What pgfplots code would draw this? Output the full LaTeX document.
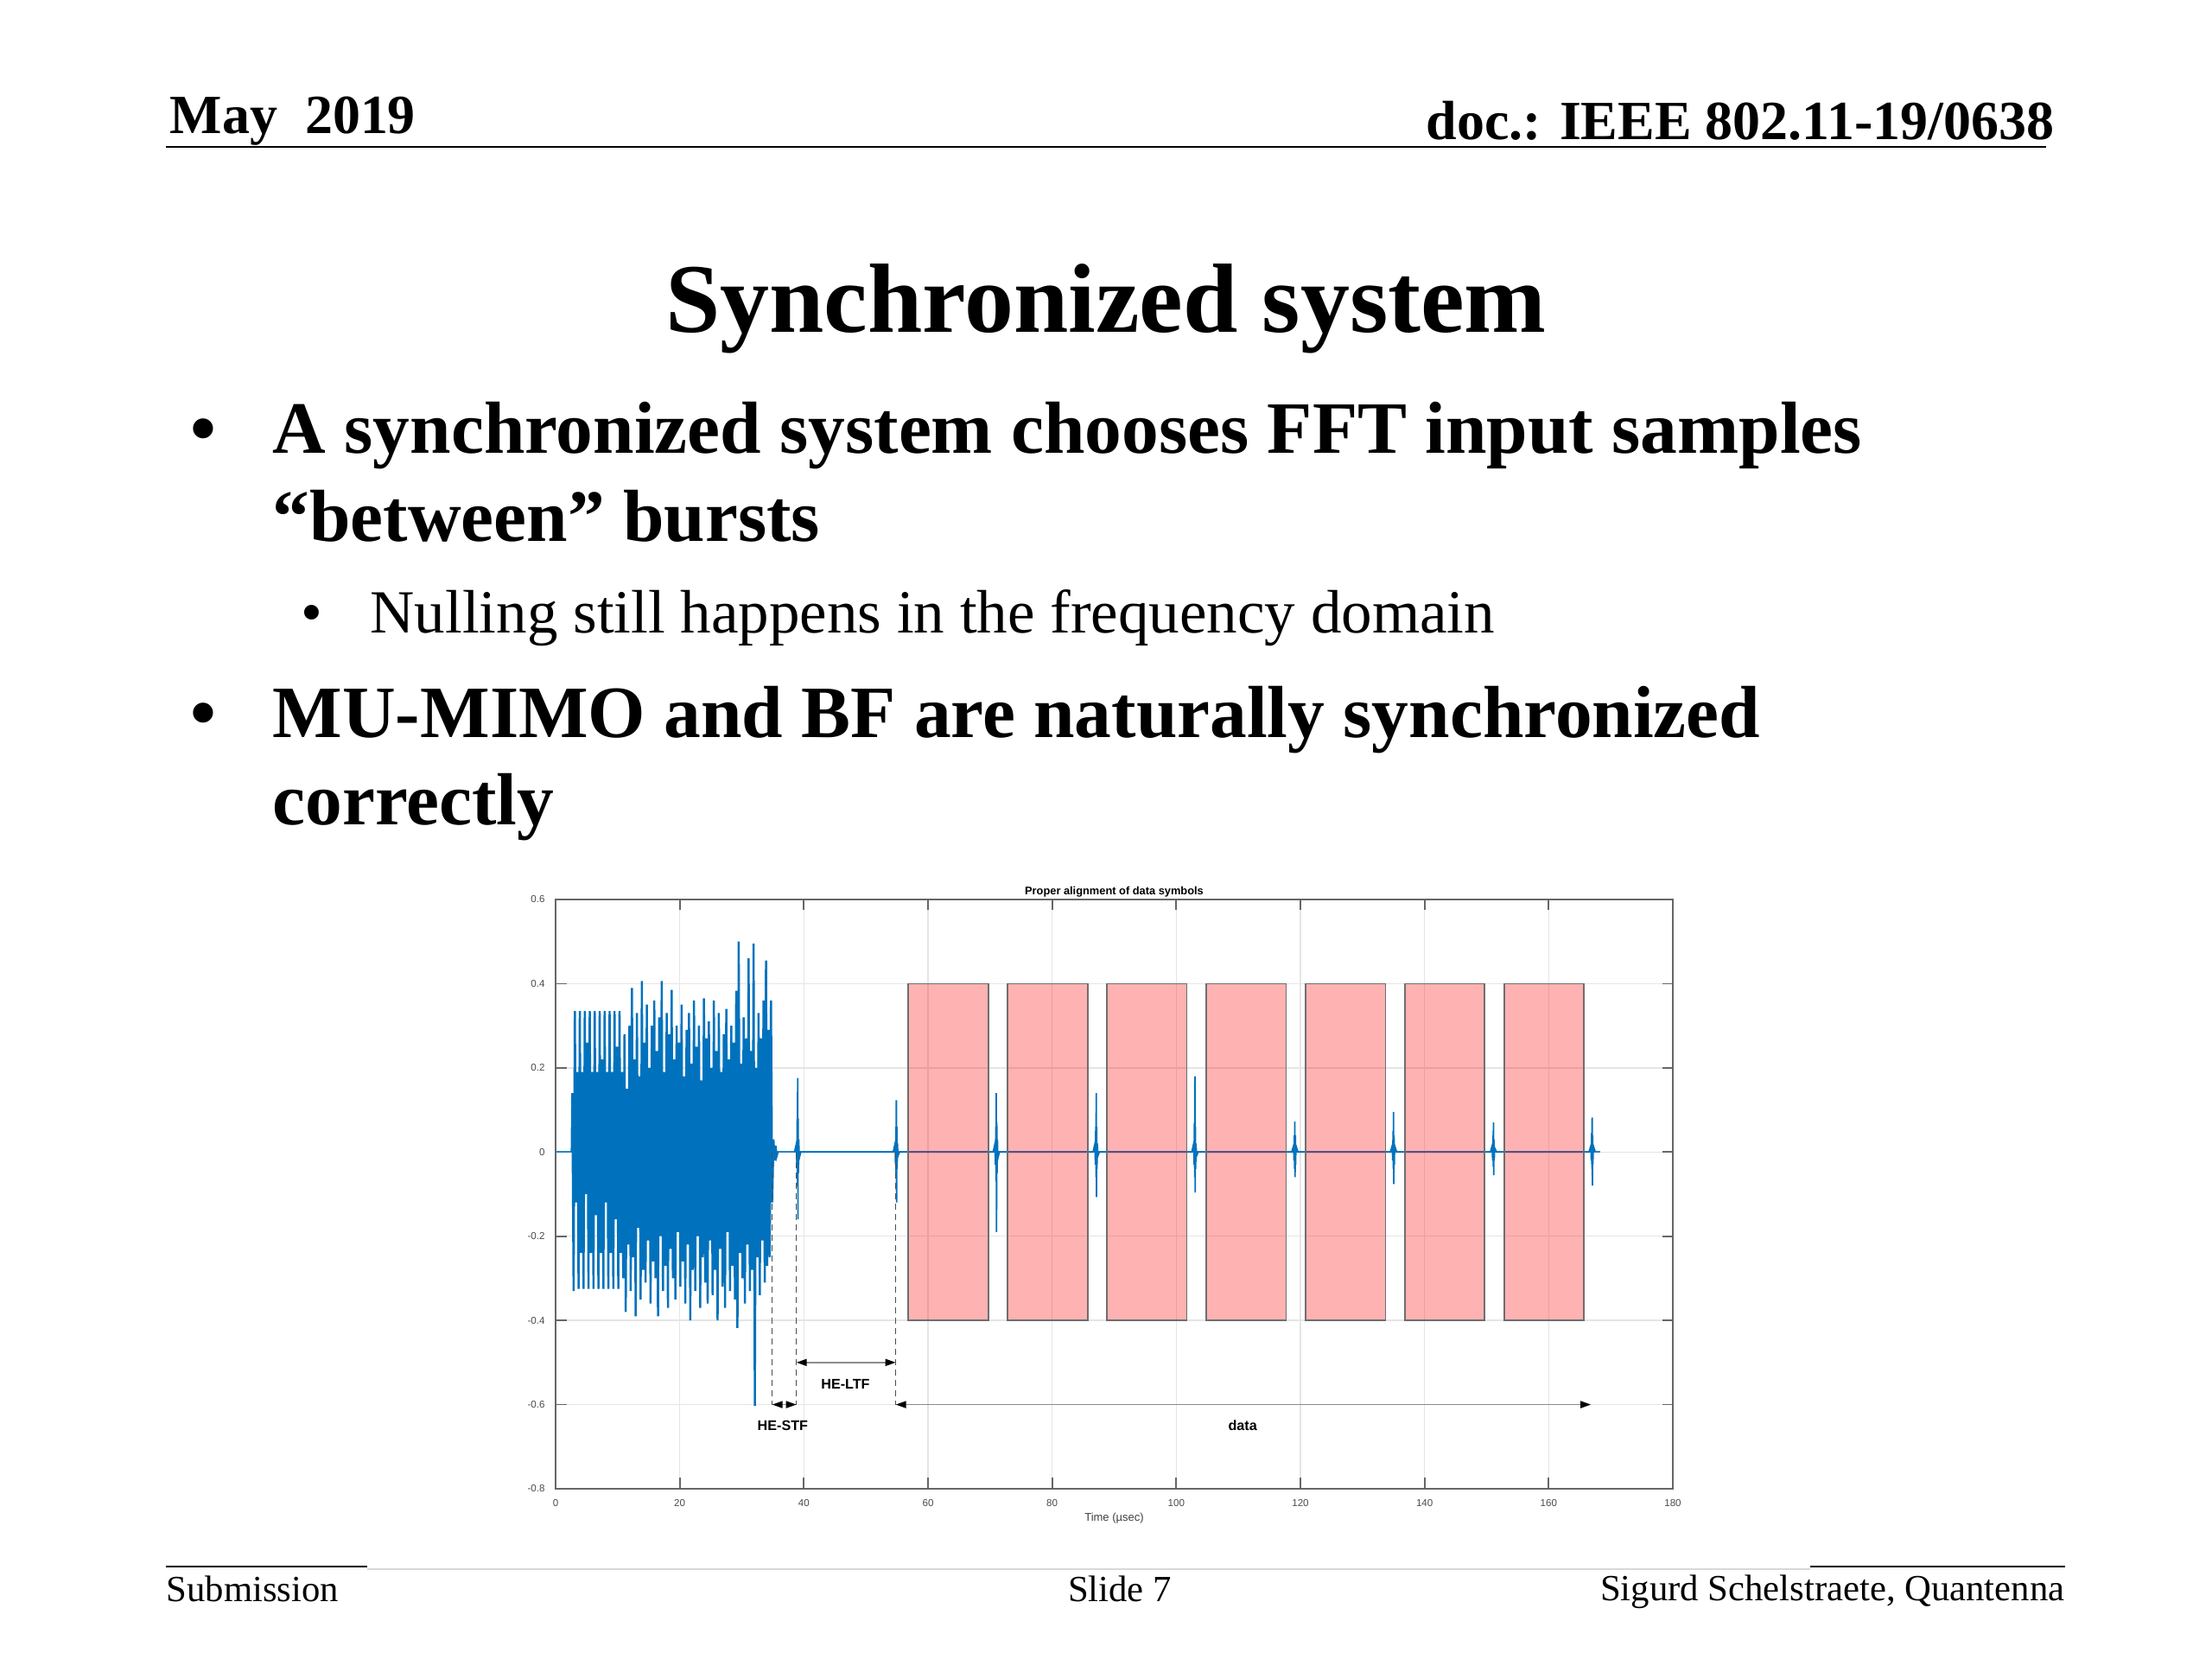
\documentclass[border=0pt]{standalone}
\usepackage{fontspec}
\setmainfont{Liberation Serif}
\setsansfont{Liberation Sans}
\usepackage{pgfplots}
\pgfplotsset{compat=1.18}
\usetikzlibrary{arrows.meta}
\definecolor{mblue}{HTML}{0072BD}
\definecolor{boxedge}{HTML}{6E6E6E}
\newcommand{\hdrfont}{\fontsize{18.2}{22}\selectfont\bfseries}
\newcommand{\bulfont}{\fontsize{24.3}{29}\selectfont\bfseries}
\newcommand{\subfont}{\fontsize{20.2}{24}\selectfont}
\newcommand{\footfont}{\fontsize{12.15}{14}\selectfont}

\begin{document}
\begin{tikzpicture}
\useasboundingbox (0,0) rectangle (256mm,192mm);
\fill[white] (0,0) rectangle (256mm,192mm);

% header
\node[anchor=base west, inner sep=0] at (19.6mm,176.5mm) {\hdrfont May~~2019};
\node[anchor=base east, inner sep=0] at (237.8mm,175.8mm) {\hdrfont doc.: IEEE 802.11-19/0638};
\draw[line width=0.7pt] (19.2mm,175.0mm) -- (236.8mm,175.0mm);

% title and bullets
\node[anchor=base, inner sep=0] at (128.0mm,153.5mm) {\fontsize{32.4}{38}\selectfont\bfseries Synchronized system};
\node[anchor=base west, inner sep=0] at (22.0mm,139.5mm) {\bulfont •};
\node[anchor=base west, inner sep=0] at (31.5mm,139.5mm) {\bulfont A synchronized system chooses FFT input samples};
\node[anchor=base west, inner sep=0] at (31.5mm,129.3mm) {\bulfont “between” bursts};
\node[anchor=base west, inner sep=0] at (34.8mm,118.7mm) {\subfont •};
\node[anchor=base west, inner sep=0] at (42.8mm,118.7mm) {\subfont Nulling still happens in the frequency domain};
\node[anchor=base west, inner sep=0] at (22.0mm,106.6mm) {\bulfont •};
\node[anchor=base west, inner sep=0] at (31.5mm,106.6mm) {\bulfont MU-MIMO and BF are naturally synchronized};
\node[anchor=base west, inner sep=0] at (31.5mm,96.5mm) {\bulfont correctly};

% footer
\draw[line width=0.7pt] (19.2mm,10.7mm) -- (42.5mm,10.7mm);
\draw[line width=0.5pt, black!15] (42.5mm,10.4mm) -- (209.5mm,10.4mm);
\draw[line width=0.7pt] (209.5mm,10.7mm) -- (239.0mm,10.7mm);
\node[anchor=base west, inner sep=0] at (19.2mm,6.6mm) {\footfont Submission};
\node[anchor=base, inner sep=0] at (129.6mm,6.6mm) {\footfont Slide 7};
\node[anchor=base east, inner sep=0] at (239.0mm,6.7mm) {\footfont Sigurd Schelstraete, Quantenna};

\begin{axis}[
  at={(64.3mm,19.7mm)}, anchor=south west,
  scale only axis, width=129.3mm, height=68.2mm,
  xmin=0, xmax=180, ymin=-0.8, ymax=0.6,
  xtick={0,20,40,60,80,100,120,140,160,180},
  ytick={-0.8,-0.6,-0.4,-0.2,0,0.2,0.4,0.6},
  yticklabel style={/pgf/number format/fixed, /pgf/number format/precision=1},
  /pgf/number format/assume math mode=true,
  ticklabel style={font=\sffamily\fontsize{3.3}{4}\selectfont, text=black!70},
  axis line style={black!60, line width=0.6pt},
  tick style={black!60, line width=0.5pt},
  major tick length=1.25mm, tick align=inside,
  grid=major, major grid style={black!10, line width=0.4pt},
  xlabel={Time (µsec)},
  xlabel style={font=\sffamily\fontsize{3.7}{4.2}\selectfont, text=black!75,
    at={(axis description cs:0.5,0)}, anchor=center, yshift=-3.4mm},
  clip=false,
]
% baseline of the waveform
\addplot[mblue!85, line width=0.65pt] coordinates {(0,0) (168.3,0)};
% HE-STF / preamble burst
\addplot[mblue, line width=0.7pt] coordinates {
(2.6,0) (2.7,0.14) (2.9,-0.33) (3.1,0.335) (3.3,-0.12) (3.5,0.19) (3.7,-0.325) (3.9,0.335)
(4.1,-0.24) (4.3,0.19) (4.5,-0.325) (4.7,0.335) (4.9,-0.10) (5.1,0.26) (5.3,-0.325) (5.5,0.335)
(5.7,-0.24) (5.9,0.19) (6.1,-0.325) (6.3,0.335) (6.5,-0.15) (6.7,0.19) (6.9,-0.325) (7.1,0.335)
(7.3,-0.24) (7.5,0.22) (7.7,-0.325) (7.9,0.335) (8.1,-0.12) (8.3,0.19) (8.5,-0.325) (8.7,0.335)
(8.9,-0.24) (9.1,0.19) (9.3,-0.325) (9.5,0.335) (9.7,-0.16) (9.9,0.25) (10.1,-0.325) (10.3,0.335)
(10.5,-0.24) (10.7,0.19)
(10.9,-0.30) (11.1,0.28) (11.3,-0.38) (11.5,0.15) (11.7,-0.22) (11.9,0.30) (12.1,-0.33) (12.3,0.39)
(12.5,-0.25) (12.7,0.22) (12.9,-0.39) (13.1,0.33) (13.3,-0.18) (13.5,0.18) (13.7,-0.35) (13.9,0.406)
(14.1,-0.28) (14.3,0.26) (14.5,-0.31) (14.7,0.35) (14.9,-0.21) (15.1,0.20) (15.3,-0.36) (15.5,0.30)
(15.7,-0.26) (15.9,0.36) (16.1,-0.30) (16.3,0.24) (16.5,-0.39) (16.7,0.32) (16.9,-0.20) (17.1,0.406)
(17.3,-0.33) (17.5,0.19) (17.7,-0.27) (17.9,0.33) (18.1,-0.37) (18.3,0.28) (18.5,-0.23) (18.7,0.385)
(18.9,-0.30) (19.1,0.22) (19.3,-0.35) (19.5,0.30) (19.7,-0.19) (19.9,0.26) (20.1,-0.32) (20.3,0.35)
(20.5,-0.26) (20.7,0.18) (20.9,-0.36) (21.1,0.29) (21.3,-0.22) (21.5,0.33) (21.7,-0.40) (21.9,0.21)
(22.1,-0.28) (22.3,0.36) (22.5,-0.33) (22.7,0.25) (22.9,-0.20) (23.1,0.30) (23.3,-0.37) (23.5,0.17)
(23.7,-0.25) (23.9,0.365) (24.1,-0.31) (24.3,0.27) (24.5,-0.36) (24.7,0.31) (24.9,-0.21) (25.1,0.20)
(25.3,-0.34) (25.5,0.36) (25.7,-0.28) (25.9,0.24) (26.1,-0.40) (26.3,0.33) (26.5,-0.23) (26.7,0.19)
(26.9,-0.32) (27.1,0.28) (27.3,-0.37) (27.5,0.34) (27.7,-0.19) (27.9,0.22) (28.1,-0.33) (28.3,0.30)
(28.5,-0.27) (28.7,0.26) (28.9,-0.35) (29.1,0.383) (29.3,-0.418) (29.5,0.50) (29.7,-0.24) (29.9,0.21)
(30.1,-0.30) (30.3,0.32) (30.5,-0.36) (30.7,0.27) (30.9,-0.22) (31.1,0.46) (31.3,-0.33) (31.5,0.24)
(31.7,-0.28) (31.9,0.495) (32.1,-0.603) (32.3,0.20) (32.5,-0.25) (32.7,0.33) (32.9,-0.34) (33.1,0.27)
(33.3,-0.21) (33.5,0.36) (33.7,-0.31) (33.9,0.455) (34.1,-0.27) (34.3,0.29) (34.5,-0.25) (34.7,0.36)
(34.9,-0.12) (35.1,0.03) (35.3,-0.02) (35.45,0.015) (35.6,-0.01) (35.8,0)
};
% short bursts between the data symbols
\addplot[mblue, line width=0.5pt] coordinates {
(38.5,0) (38.8,0.02) (38.87,-0.03) (38.93,0.08) (38.97,-0.08) (39.0,0.176) (39.04,-0.16) (39.08,0.08) (39.12,-0.05) (39.18,0.03) (39.25,-0.015) (39.5,0)
(54.4,0) (54.7,0.02) (54.77,-0.03) (54.83,0.06) (54.87,-0.06) (54.9,0.123) (54.94,-0.12) (54.98,0.06) (55.02,-0.04) (55.08,0.02) (55.15,-0.01) (55.4,0)
(70.5,0) (70.8,0.02) (70.87,-0.03) (70.93,0.06) (70.97,-0.07) (71.0,0.14) (71.04,-0.19) (71.08,0.07) (71.12,-0.05) (71.18,0.03) (71.25,-0.015) (71.5,0)
(86.6,0) (86.9,0.02) (86.97,-0.03) (87.03,0.06) (87.07,-0.06) (87.1,0.14) (87.14,-0.107) (87.18,0.06) (87.22,-0.04) (87.28,0.02) (87.35,-0.01) (87.6,0)
(102.5,0) (102.8,0.02) (102.87,-0.03) (102.93,0.07) (102.97,-0.06) (103.0,0.18) (103.04,-0.096) (103.08,0.06) (103.12,-0.04) (103.18,0.02) (103.25,-0.01) (103.5,0)
(118.6,0) (118.9,0.015) (118.97,-0.02) (119.03,0.04) (119.07,-0.04) (119.1,0.072) (119.14,-0.06) (119.18,0.04) (119.22,-0.03) (119.28,0.015) (119.6,0)
(134.5,0) (134.8,0.015) (134.87,-0.02) (134.93,0.05) (134.97,-0.04) (135.0,0.095) (135.04,-0.076) (135.08,0.04) (135.12,-0.03) (135.18,0.015) (135.5,0)
(150.6,0) (150.9,0.015) (150.97,-0.02) (151.03,0.04) (151.07,-0.035) (151.1,0.07) (151.14,-0.055) (151.18,0.03) (151.22,-0.02) (151.28,0.01) (151.6,0)
(166.5,0) (166.8,0.015) (166.87,-0.02) (166.93,0.045) (166.97,-0.04) (167.0,0.082) (167.04,-0.08) (167.08,0.04) (167.12,-0.03) (167.18,0.015) (167.5,0)
};
% FFT windows of the data symbols
\addplot[draw=boxedge, line width=0.5pt, fill=red, fill opacity=0.3] coordinates {(56.8,-0.4) (69.7,-0.4) (69.7,0.4) (56.8,0.4)} -- cycle;
\addplot[draw=boxedge, line width=0.5pt, fill=red, fill opacity=0.3] coordinates {(72.8,-0.4) (85.7,-0.4) (85.7,0.4) (72.8,0.4)} -- cycle;
\addplot[draw=boxedge, line width=0.5pt, fill=red, fill opacity=0.3] coordinates {(88.8,-0.4) (101.7,-0.4) (101.7,0.4) (88.8,0.4)} -- cycle;
\addplot[draw=boxedge, line width=0.5pt, fill=red, fill opacity=0.3] coordinates {(104.8,-0.4) (117.7,-0.4) (117.7,0.4) (104.8,0.4)} -- cycle;
\addplot[draw=boxedge, line width=0.5pt, fill=red, fill opacity=0.3] coordinates {(120.8,-0.4) (133.7,-0.4) (133.7,0.4) (120.8,0.4)} -- cycle;
\addplot[draw=boxedge, line width=0.5pt, fill=red, fill opacity=0.3] coordinates {(136.8,-0.4) (149.7,-0.4) (149.7,0.4) (136.8,0.4)} -- cycle;
\addplot[draw=boxedge, line width=0.5pt, fill=red, fill opacity=0.3] coordinates {(152.8,-0.4) (165.7,-0.4) (165.7,0.4) (152.8,0.4)} -- cycle;
% field boundaries
\addplot[black!70, line width=0.35pt, dash pattern=on 0.7mm off 0.5mm] coordinates {(34.9,0) (34.9,-0.6)};
\addplot[black!70, line width=0.35pt, dash pattern=on 0.7mm off 0.5mm] coordinates {(38.8,0) (38.8,-0.6)};
\addplot[black!70, line width=0.35pt, dash pattern=on 0.7mm off 0.5mm] coordinates {(54.8,0) (54.8,-0.6)};
\addplot[black!45, line width=0.5pt, arrows={Triangle[length=1.2mm,width=0.8mm,color=black]-Triangle[length=1.2mm,width=0.8mm,color=black]}] coordinates {(34.9,-0.6) (38.8,-0.6)};
\addplot[black!45, line width=0.5pt, arrows={Triangle[length=1.2mm,width=0.8mm,color=black]-Triangle[length=1.2mm,width=0.8mm,color=black]}] coordinates {(38.8,-0.5) (54.8,-0.5)};
\addplot[black!45, line width=0.5pt, arrows={Triangle[length=1.2mm,width=0.8mm,color=black]-Triangle[length=1.2mm,width=0.8mm,color=black]}] coordinates {(54.8,-0.6) (166.8,-0.6)};
\node[font=\sffamily\bfseries\fontsize{4.6}{5}\selectfont] at (axis cs:36.6,-0.65) {HE-STF};
\node[font=\sffamily\bfseries\fontsize{4.6}{5}\selectfont] at (axis cs:46.7,-0.551) {HE-LTF};
\node[font=\sffamily\bfseries\fontsize{4.6}{5}\selectfont] at (axis cs:110.7,-0.65) {data};
% axes title
\node[anchor=south, inner sep=0.6pt, font=\sffamily\bfseries\fontsize{3.65}{4.2}\selectfont] at (axis description cs:0.5,1) {Proper alignment of data symbols};
\end{axis}
\end{tikzpicture}
\end{document}
